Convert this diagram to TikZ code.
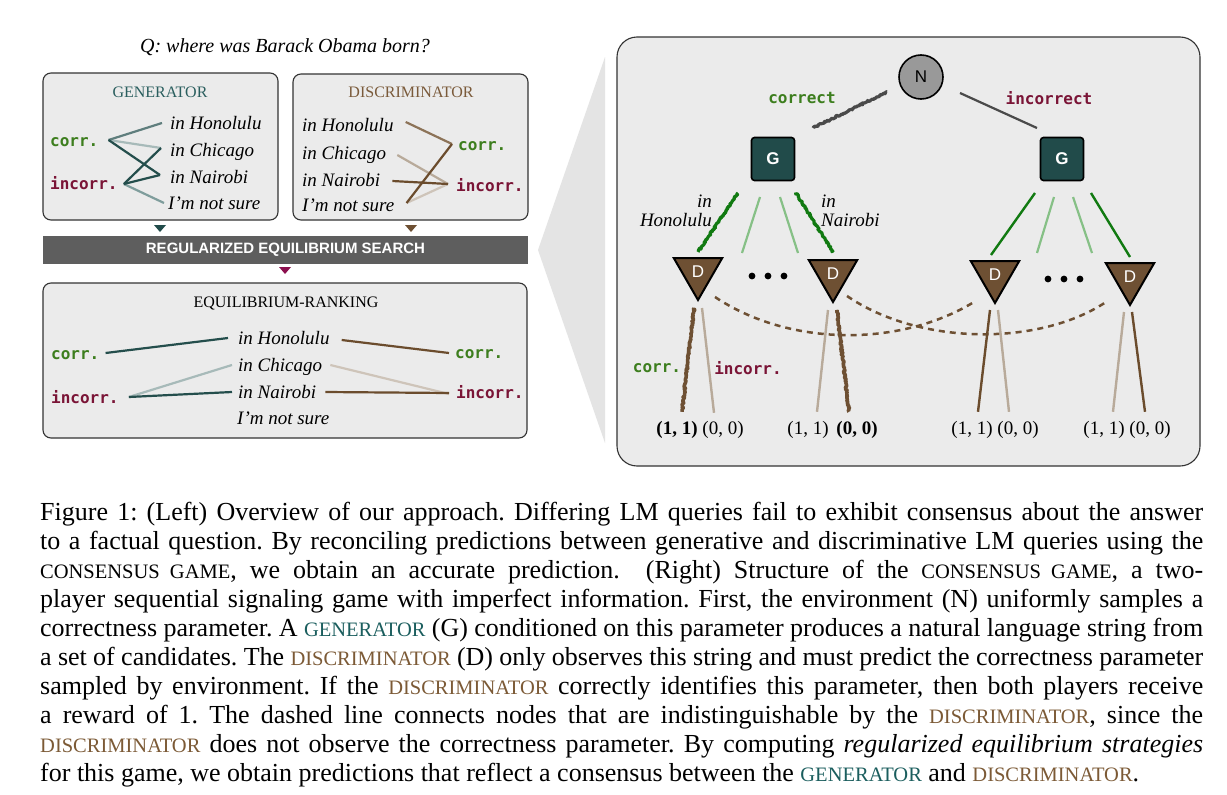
\documentclass[tikz,border=0pt]{standalone}
\usepackage{fontspec}
\setmainfont[WordSpace={1,1.2,2.2}]{Liberation Serif}
\newfontfamily\monof{DejaVu Sans Mono}
\newfontfamily\sansf{Liberation Sans}
\usetikzlibrary{shapes.geometric,decorations.pathmorphing,calc}
\definecolor{panelgray}{HTML}{EBEBEB}
\definecolor{funnelgray}{HTML}{E4E4E4}
\definecolor{bargray}{HTML}{5E5E5E}
\definecolor{tealdk}{HTML}{244E4C}
\definecolor{tealmd}{HTML}{5F7E7D}
\definecolor{teallt}{HTML}{A7BAB9}
\definecolor{tealml}{HTML}{7F9D9C}
\definecolor{gfill}{HTML}{214B4A}
\definecolor{browndk}{HTML}{6B4C2D}
\definecolor{brownmd}{HTML}{8C7358}
\definecolor{brownlt}{HTML}{B8AA9A}
\definecolor{brownxl}{HTML}{CEC4B9}
\definecolor{dfill}{HTML}{6E5033}
\definecolor{corrgreen}{HTML}{3D7E1E}
\definecolor{incmaroon}{HTML}{7A1436}
\definecolor{magtri}{HTML}{8C0F4F}
\definecolor{gentitle}{HTML}{2A5E5E}
\definecolor{disctitle}{HTML}{7A5A3A}
\definecolor{greendk}{HTML}{117A11}
\definecolor{greenlt}{HTML}{86C086}
\definecolor{ngray}{HTML}{999999}
\definecolor{edgegray}{HTML}{4A4A4A}
\definecolor{capgen}{HTML}{1B5E5E}
\definecolor{capdisc}{HTML}{7C5A36}
\newcommand\mysc[1]{{\fontsize{20.5}{29}\selectfont #1}}
\newcommand\gen{\textcolor{capgen}{\mysc{GENERATOR}}}
\newcommand\disc{\textcolor{capdisc}{\mysc{DISCRIMINATOR}}}
\begin{document}
\begin{tikzpicture}[x=1pt,y=-1pt,
  panel/.style={draw=black!80, fill=panelgray, line width=1.1pt, rounded corners=8pt},
  ans/.style={anchor=west, inner sep=0pt, font=\fontsize{19}{21}\selectfont\itshape, text height=12pt, text depth=0pt},
  mlab/.style={anchor=west, inner sep=0pt, font=\monof\bfseries\fontsize{16}{18}\selectfont, text height=10pt, text depth=0pt},
  cg/.style={mlab, text=corrgreen},
  ci/.style={mlab, text=incmaroon},
  boxtitle/.style={inner sep=0pt, font=\fontsize{16}{18}\selectfont},
  tl/.style={line width=2.2pt},
  sketch/.style={decorate, decoration={random steps, segment length=1pt, amplitude=0.9pt}, line width=3.2pt, line join=round},
  nnode/.style={circle, minimum size=44pt, inner sep=0pt, fill=ngray, draw=black, line width=1.6pt, font=\sansf\fontsize{17}{19}\selectfont},
  gnode/.style={rectangle, minimum size=43pt, inner sep=0pt, rounded corners=3pt, fill=gfill, draw=black, line width=1.6pt, text=white, font=\sansf\bfseries\fontsize{17}{19}\selectfont},
  dnode/.style={regular polygon, regular polygon sides=3, shape border rotate=180, minimum size=56pt, inner sep=0pt, fill=dfill, draw=black, line width=2pt, text=white, font=\sansf\fontsize{17}{19}\selectfont},
  pay/.style={inner sep=0pt, font=\fontsize{19}{21}\selectfont, text height=12pt, text depth=4pt},
  tlab/.style={inner sep=0pt, font=\monof\bfseries\fontsize{16}{18}\selectfont},
  dashcurve/.style={draw=dfill, line width=2.5pt, dash pattern=on 6pt off 5pt}
]
\useasboundingbox (0,0) rectangle (1227,795);
\fill[white] (0,0) rectangle (1227,795);

% ---------- left side ----------
\node[font=\fontsize{20}{22}\selectfont\itshape, inner sep=0pt] (q) at (285,47) {Q: where was Barack Obama born?};

\draw[panel] (43,73) rectangle (278,220);
\draw[panel] (293,74) rectangle (528,220);
\draw[panel] (43,283) rectangle (527,438);

\node[boxtitle, text=gentitle] (gt) at (160,92) {GENERATOR};
\node[boxtitle, text=disctitle] (dt) at (411,92) {DISCRIMINATOR};

% generator
\node[cg] (gcorr) at (50,141) {corr.};
\node[ci] (ginc) at (50,184) {incorr.};
\node[ans] (gh) at (170,123) {in Honolulu};
\node[ans] (gc) at (170,150) {in Chicago};
\node[ans] (gn) at (170,177) {in Nairobi};
\node[ans] (gs) at (168,203) {I’m not sure};
\coordinate (gcv) at ($(gcorr.east)+(10,-1)$);
\coordinate (giv) at ($(ginc.east)+(6,0)$);
\draw[tl, teallt] (gcv) -- ($(gc.west)+(-9,-2)$);
\draw[tl, tealml] (giv) -- ($(gs.west)+(-4,0)$);
\draw[tl, tealmd] (gcv) -- ($(gh.west)+(-8,0)$);
\draw[tl, tealdk] (gcv) -- ($(gn.west)+(-10,-2)$);
\draw[tl, tealdk] (giv) -- ($(gc.west)+(-9,-2)$);
\draw[tl, tealdk] (giv) -- ($(gn.west)+(-10,-2)$);

% discriminator
\node[ans] (dh) at (302,125) {in Honolulu};
\node[ans] (dc) at (302,153) {in Chicago};
\node[ans] (dn) at (302,180) {in Nairobi};
\node[ans] (ds) at (302,205) {I’m not sure};
\node[cg] (dcorr) at (458,145) {corr.};
\node[ci] (dinc) at (456,186) {incorr.};
\coordinate (dcv) at ($(dcorr.west)+(-6,-1)$);
\coordinate (div) at ($(dinc.west)+(-8,-2)$);
\draw[tl, brownxl] ($(ds.east)+(12,-2)$) -- (div);
\draw[tl, brownlt] ($(dc.east)+(11,2)$) -- (div);
\draw[tl, brownmd] ($(dh.east)+(12,-3)$) -- (dcv);
\draw[tl, browndk] ($(dn.east)+(12,1)$) -- (div);
\draw[tl, browndk] ($(ds.east)+(12,-2)$) -- (dcv);

% small triangles
\fill[gfill] (154,225) -- (166,225) -- (160,232) -- cycle;
\fill[dfill] (405,225) -- (417,225) -- (411,232) -- cycle;

% bar
\node[fill=bargray, minimum width=485pt, minimum height=28pt, inner sep=0pt, text=white, font=\sansf\bfseries\fontsize{15}{17}\selectfont] (bar) at (285.5,249.5) {REGULARIZED EQUILIBRIUM SEARCH};
\fill[magtri] (279,267) -- (291,267) -- (285,274) -- cycle;

% equilibrium ranking
\node[boxtitle] (et) at (286,303) {EQUILIBRIUM-RANKING};
\node[ans] (eh) at (238,338) {in Honolulu};
\node[ans] (ec) at (238,365) {in Chicago};
\node[ans] (en) at (238,392) {in Nairobi};
\node[ans] (es) at (237,418) {I’m not sure};
\node[cg] (elc) at (51,354) {corr.};
\node[ci] (eli) at (51,398) {incorr.};
\node[cg] (erc) at (455,353) {corr.};
\node[ci] (eri) at (456,393) {incorr.};
\draw[tl, tealdk] ($(elc.east)+(6,-1)$) -- ($(eh.west)+(-10,0)$);
\draw[tl, teallt] ($(eli.east)+(10,-1)$) -- ($(ec.west)+(-6,0)$);
\draw[tl, tealdk] ($(eli.east)+(10,-1)$) -- ($(en.west)+(-6,0)$);
\draw[tl, browndk] ($(eh.east)+(12,2)$) -- ($(erc.west)+(-6,0)$);
\draw[tl, brownxl] ($(ec.east)+(8,0)$) -- ($(eri.west)+(-7,1)$);
\draw[tl, browndk] ($(en.east)+(9,0)$) -- ($(eri.west)+(-7,0)$);

% ---------- funnel and right panel ----------
\fill[funnelgray] (538,250) -- (605,57) -- (605,443) -- cycle;
\draw[panel, rounded corners=20pt] (617,37) rectangle (1200,466);

\node[nnode] (N) at (921,77) {N};
\node[gnode] (G1) at (773,159) {G};
\node[gnode] (G2) at (1062,159) {G};
\node[dnode] (D1) at (698,272) {D};
\node[dnode] (D2) at (833,274) {D};
\node[dnode] (D3) at (995,275) {D};
\node[dnode] (D4) at (1130,277) {D};

\node[tlab, text=corrgreen] (lcorrect) at (802,98) {correct};
\node[tlab, text=incmaroon] (lincorrect) at (1049,98) {incorrect};

\draw[sketch, edgegray] ($(N)+(-34,15)$) -- ($(G1)+(40,-31)$);
\draw[line width=2.2pt, edgegray] ($(N)+(39,16)$) -- ($(G2)+(-25,-31)$);

% G1 edges
\draw[line width=2.2pt, greenlt] ($(G1)+(-13,38)$) -- ($(G1)+(-31,94)$);
\draw[line width=2.2pt, greenlt] ($(G1)+(7,38)$) -- ($(G1)+(25,94)$);
\draw[sketch, greendk] ($(G1)+(-35,34)$) -- ($(D1)+(0,-20)$);
\draw[sketch, greendk] ($(G1)+(23,34)$) -- ($(D2)+(0,-22)$);
% G2 edges
\draw[line width=2.2pt, greenlt] ($(G2)+(-8,38)$) -- ($(G2)+(-25,94)$);
\draw[line width=2.2pt, greenlt] ($(G2)+(11,38)$) -- ($(G2)+(30,94)$);
\draw[line width=2.4pt, greendk] ($(G2)+(-27,34)$) -- ($(D3)+(-4,-20)$);
\draw[line width=2.4pt, greendk] ($(G2)+(29,34)$) -- ($(D4)+(0,-20)$);

\node[anchor=north east, align=right, inner sep=0pt, font=\fontsize{19}{19}\selectfont\itshape] (lhon) at (712,195) {in\\Honolulu};
\node[anchor=north west, align=left, inner sep=0pt, font=\fontsize{19}{19}\selectfont\itshape] (lnai) at (821,195) {in\\Nairobi};

% dots
\fill (752,276) circle (3.4pt);
\fill (768,276) circle (3.4pt);
\fill (784,276) circle (3.4pt);
\fill (1048,279) circle (3.4pt);
\fill (1064,279) circle (3.4pt);
\fill (1080,279) circle (3.4pt);

% dashed information sets
\draw[dashcurve] ($(D1)+(17,25)$) .. controls (790,347) and (900,347) .. ($(D3)+(-21,27)$);
\draw[dashcurve] ($(D2)+(14,22)$) .. controls (920,346) and (1040,346) .. ($(D4)+(-24,25)$);

% payoffs
\node[pay] (p1a) at (677,430) {\textbf{(1, 1)}};
\node[pay] (p1b) at (723,430) {(0, 0)};
\node[pay] (p2a) at (808,430) {(1, 1)};
\node[pay] (p2b) at (857,430) {\textbf{(0, 0)}};
\node[pay] (p3a) at (972,430) {(1, 1)};
\node[pay] (p3b) at (1018,430) {(0, 0)};
\node[pay] (p4a) at (1104,430) {(1, 1)};
\node[pay] (p4b) at (1150,430) {(0, 0)};

\draw[line width=2.4pt, brownlt] ($(D1)+(4,36)$) -- ($(p1b.north)+(-9,-9)$);
\draw[sketch, dfill, line width=3.6pt] ($(D1)+(-4,36)$) -- ($(p1a.north)+(5,-10)$);
\draw[line width=2.4pt, brownlt] ($(D2)+(-5,36)$) -- ($(p2a.north)+(9,-10)$);
\draw[sketch, dfill, line width=3.6pt] ($(D2)+(4,36)$) -- ($(p2b.north)+(-8,-10)$);
\draw[line width=2.4pt, browndk] ($(D3)+(-5,35)$) -- ($(p3a.north)+(6,-10)$);
\draw[line width=2.4pt, brownlt] ($(D3)+(3,35)$) -- ($(p3b.north)+(-9,-10)$);
\draw[line width=2.4pt, brownlt] ($(D4)+(-6,35)$) -- ($(p4a.north)+(9,-10)$);
\draw[line width=2.4pt, browndk] ($(D4)+(2,35)$) -- ($(p4b.north)+(-5,-10)$);

\node[tlab, text=corrgreen] (lcorr) at (657,368) {corr.};
\node[tlab, text=incmaroon] (linc) at (748,368) {incorr.};

% ---------- caption ----------
\node[anchor=north west, inner sep=0pt, text width=1163pt, align=justify, font=\fontsize{26}{29}\selectfont\frenchspacing] (cap) at (40,502) {%
Figure 1: (Left) Overview of our approach. Differing LM queries fail to exhibit consensus about the answer\linebreak
to a factual question. By reconciling predictions between generative and discriminative LM queries using the\linebreak
\mysc{CONSENSUS GAME}, we obtain an accurate prediction.\ \ (Right) Structure of the \mysc{CONSENSUS GAME}, a two-\linebreak
player sequential signaling game with imperfect information. First, the environment (N) uniformly samples a\linebreak
correctness parameter. A \gen{} (G) conditioned on this parameter produces a natural language string from\linebreak
a set of candidates. The \disc{} (D) only observes this string and must predict the correctness parameter\linebreak
sampled by environment. If the \disc{} correctly identifies this parameter, then both players receive\linebreak
a reward of 1. The dashed line connects nodes that are indistinguishable by the \disc, since the\linebreak
\disc{} does not observe the correctness parameter. By computing \textit{regularized equilibrium strategies}\linebreak
for this game, we obtain predictions that reflect a consensus between the \gen{} and \disc.};
\end{tikzpicture}
\end{document}
